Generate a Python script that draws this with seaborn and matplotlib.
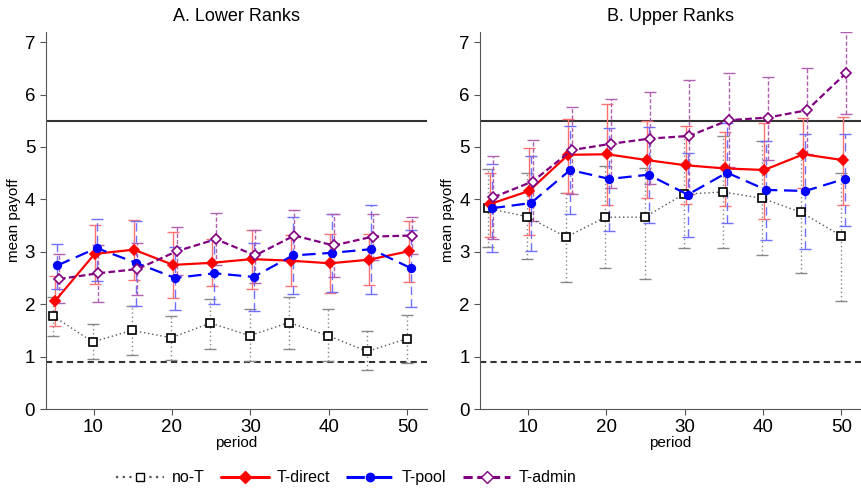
import numpy as np
import pandas as pd
import seaborn as sns
from matplotlib import pyplot as plt
from matplotlib.lines import Line2D

## data (period blocks 5..50)
periods = [5, 10, 15, 20, 25, 30, 35, 40, 45, 50]
treatments = ["no-T", "T-direct", "T-pool", "T-admin"]

# A. lower ranks
low_noT = [1.77, 1.28, 1.50, 1.36, 1.64, 1.40, 1.65, 1.40, 1.10, 1.34]
low_noT_lo = [1.39, 0.95, 1.03, 0.93, 1.15, 0.92, 1.15, 0.92, 0.74, 0.87]
low_noT_hi = [2.14, 1.63, 1.96, 1.77, 2.10, 1.90, 2.13, 1.90, 1.49, 1.80]
low_direct = [2.07, 2.96, 3.04, 2.75, 2.79, 2.86, 2.83, 2.78, 2.85, 3.01]
low_direct_lo = [1.58, 2.39, 2.47, 2.12, 2.35, 2.29, 2.34, 2.21, 2.37, 2.43]
low_direct_hi = [2.53, 3.52, 3.61, 3.38, 3.24, 3.42, 3.32, 3.33, 3.33, 3.58]
low_pool = [2.74, 3.07, 2.79, 2.50, 2.59, 2.52, 2.93, 2.98, 3.05, 2.69]
low_pool_lo = [2.29, 2.45, 1.96, 1.88, 2.01, 1.87, 2.20, 2.24, 2.20, 1.95]
low_pool_hi = [3.14, 3.62, 3.58, 3.10, 3.23, 3.16, 3.66, 3.72, 3.90, 3.42]
low_admin = [2.48, 2.59, 2.67, 3.01, 3.24, 2.93, 3.31, 3.12, 3.29, 3.31]
low_admin_lo = [2.02, 2.05, 2.18, 2.55, 2.75, 2.40, 2.82, 2.52, 2.85, 2.95]
low_admin_hi = [2.95, 3.12, 3.17, 3.47, 3.74, 3.42, 3.80, 3.72, 3.73, 3.67]

# B. upper ranks
up_noT = [3.83, 3.67, 3.28, 3.66, 3.66, 4.10, 4.14, 4.02, 3.75, 3.31]
up_noT_lo = [3.09, 2.86, 2.42, 2.70, 2.48, 3.07, 3.07, 2.93, 2.60, 2.07]
up_noT_hi = [4.58, 4.50, 4.13, 4.63, 4.60, 5.21, 5.21, 5.11, 4.89, 4.51]
up_direct = [3.91, 4.16, 4.85, 4.86, 4.75, 4.65, 4.59, 4.56, 4.86, 4.75]
up_direct_lo = [3.29, 3.32, 4.12, 3.89, 4.02, 3.92, 3.87, 3.63, 4.22, 3.90]
up_direct_hi = [4.50, 4.98, 5.53, 5.81, 5.49, 5.39, 5.29, 5.46, 5.55, 5.57]
up_pool = [3.83, 3.93, 4.56, 4.39, 4.47, 4.09, 4.51, 4.18, 4.16, 4.39]
up_pool_lo = [3.00, 3.01, 3.72, 3.40, 3.55, 3.29, 3.55, 3.23, 3.05, 3.49]
up_pool_hi = [4.67, 4.83, 5.40, 5.37, 5.38, 4.89, 5.46, 5.11, 5.25, 5.25]
up_admin = [4.04, 4.34, 4.94, 5.06, 5.16, 5.21, 5.51, 5.56, 5.70, 6.41]
up_admin_lo = [3.25, 3.59, 4.10, 4.21, 4.29, 4.10, 4.61, 4.75, 4.87, 5.63]
up_admin_hi = [4.82, 5.13, 5.77, 5.92, 6.05, 6.27, 6.41, 6.33, 6.51, 7.19]

upper_ref = 5.5
lower_ref = 0.9

panels = {
    "A. Lower Ranks": [(low_noT, low_noT_lo, low_noT_hi), (low_direct, low_direct_lo, low_direct_hi),
                       (low_pool, low_pool_lo, low_pool_hi), (low_admin, low_admin_lo, low_admin_hi)],
    "B. Upper Ranks": [(up_noT, up_noT_lo, up_noT_hi), (up_direct, up_direct_lo, up_direct_hi),
                       (up_pool, up_pool_lo, up_pool_hi), (up_admin, up_admin_lo, up_admin_hi)],
}

## styles
styles = {
    "no-T": dict(color="#555555", ci="#888888", ls=(0, (1, 2)), lw=1.0, marker="s", mfc="white", mec="black", ms=5.5, off=-0.1),
    "T-direct": dict(color="red", ci="#ff7070", ls="-", lw=1.6, marker="D", mfc="red", mec="red", ms=5.5, off=0.15),
    "T-pool": dict(color="blue", ci="#7070ff", ls=(0, (6, 3)), lw=1.6, marker="o", mfc="blue", mec="blue", ms=5.5, off=0.4),
    "T-admin": dict(color="purple", ci="#b060b0", ls=(0, (3, 1.5)), lw=1.6, marker="D", mfc="white", mec="purple", ms=5.5, off=0.6),
}

sns.set_style("ticks")
plt.rcParams["font.family"] = ["Liberation Sans", "DejaVu Sans"]
plt.rcParams["text.color"] = "black"
plt.rcParams["axes.labelcolor"] = "black"
plt.rcParams["xtick.color"] = "#555555"
plt.rcParams["ytick.color"] = "#555555"
plt.rcParams["xtick.labelcolor"] = "black"
plt.rcParams["ytick.labelcolor"] = "black"

fig = plt.figure(figsize=(8.61, 4.94), dpi=100)
ax1 = fig.add_axes([0.053, 0.172, 0.443, 0.764])
ax2 = fig.add_axes([0.5575, 0.172, 0.4425, 0.764])

for ax, (title, series) in zip([ax1, ax2], panels.items()):
    for name, (m, lo, hi) in zip(treatments, series):
        st = styles[name]
        df = pd.DataFrame({"period": np.array(periods) + st["off"], "mean": m, "lo": lo, "hi": hi})
        eb = ax.errorbar(df["period"], df["mean"],
                         yerr=[df["mean"] - df["lo"], df["hi"] - df["mean"]],
                         fmt="none", ecolor=st["ci"], elinewidth=1.0, capsize=4.5, capthick=1.0, zorder=2)
        eb[2][0].set_linestyle(st["ls"])
        sns.lineplot(data=df, x="period", y="mean", ax=ax, color=st["color"], linestyle=st["ls"],
                     linewidth=st["lw"], marker=st["marker"], markerfacecolor=st["mfc"],
                     markeredgecolor=st["mec"], markeredgewidth=1.2, markersize=st["ms"], zorder=3)
    ax.axhline(upper_ref, color="#333333", lw=1.5, zorder=1)
    ax.axhline(lower_ref, color="#333333", lw=1.5, ls=(0, (3, 2)), zorder=1)
    ax.set_xlim(3.9, 52.5)
    ax.set_ylim(0, 7.2)
    ax.set_xticks([10, 20, 30, 40, 50])
    ax.set_yticks(range(0, 8))
    ax.tick_params(labelsize=13.5, length=4)
    ax.set_xlabel("period", fontsize=11, labelpad=0)
    ax.set_ylabel("mean payoff", fontsize=11, labelpad=3)
    ax.set_title(title, fontsize=13, pad=8)
    sns.despine(ax=ax)
    for s in ["left", "bottom"]:
        ax.spines[s].set_color("#555555")

handles = [Line2D([], [], color=styles[n]["color"], ls=styles[n]["ls"], lw=styles[n]["lw"] + 0.6,
                  marker=styles[n]["marker"], mfc=styles[n]["mfc"], mec=styles[n]["mec"], ms=6)
           for n in treatments]
fig.legend(handles, treatments, loc="center", bbox_to_anchor=(0.402, 0.033), ncol=4,
           frameon=False, fontsize=11.5, handlelength=3.0, handletextpad=0.5, columnspacing=1.0)

fig.savefig("out.png", dpi=100)
